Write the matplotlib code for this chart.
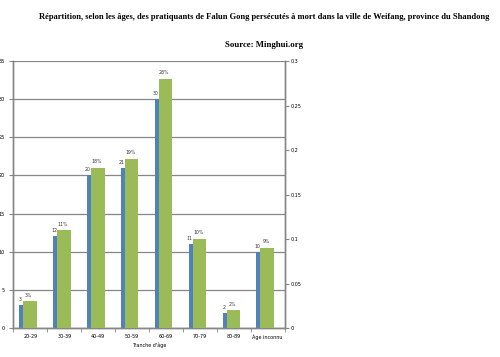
import numpy as np
import matplotlib
matplotlib.use('Agg')
import matplotlib.pyplot as plt

categories = ["20-29", "30-39", "40-49", "50-59", "60-69", "70-79", "80-89", "Âge inconnu"]
counts = [3, 12, 20, 21, 30, 11, 2, 10]
shares = [0.03, 0.11, 0.18, 0.19, 0.28, 0.10, 0.02, 0.09]
share_labels = ["3%", "11%", "18%", "19%", "28%", "10%", "2%", "9%"]

blue = '#4F81BD'
green = '#9BBB59'
grey = '#868686'

fig = plt.figure(figsize=(5, 3.57), dpi=100)
ax = fig.add_axes([0.0267, 0.0812, 0.5427, 0.7479])
ax2 = ax.twinx()

x = np.arange(len(categories))
ax.bar(x - 0.333, counts, width=0.333, align='edge', color=blue, zorder=2)
ax2.bar(x - 0.215, shares, width=0.404, align='edge', color=green, zorder=3)

for xi, c in zip(x, counts):
    ax.text(xi - 0.30, c + 0.4, str(c), fontsize=3.3, color='#333333', ha='center', va='bottom')
for xi, s, lab in zip(x, shares, share_labels):
    ax2.text(xi - 0.05, s + 0.004, lab, fontsize=3.3, color='#333333', ha='center', va='bottom')

ax.set_xlim(-0.5, len(categories) - 0.5)
ax.set_ylim(0, 35)
ax2.set_ylim(0, 0.3)
ax.set_yticks(range(0, 36, 5))
ax2.set_yticks([0, 0.05, 0.1, 0.15, 0.2, 0.25, 0.3])
ax2.set_yticklabels(['0', '0,05', '0,1', '0,15', '0,2', '0,25', '0,3'])
ax.set_xticks(x)
ax.set_xticklabels(categories)
ax.set_xticks(np.arange(len(categories) + 1) - 0.5, minor=True)
ax.tick_params(axis='x', which='major', length=0, labelsize=3.5, pad=4)
ax.tick_params(axis='x', which='minor', length=3, color=grey)
ax.tick_params(axis='y', labelsize=3.5, length=3, color=grey, pad=3)
ax2.tick_params(axis='y', labelsize=3.5, length=3, color=grey, pad=1)

ax.grid(axis='y', color=grey, linewidth=0.9, zorder=0)
ax.set_axisbelow(True)
for a in (ax, ax2):
    a.spines['top'].set_visible(False)
    for s in ('left', 'right', 'bottom'):
        a.spines[s].set_color(grey)
        a.spines[s].set_linewidth(1.0)

ax.set_xlabel("Tranche d'âge", fontsize=3.5, labelpad=2)

fig.text(0.528, 0.952, "Répartition, selon les âges, des pratiquants de Falun Gong persécutés à mort dans la ville de Weifang, province du Shandong",
         fontsize=6.1, fontweight='bold', family='Liberation Serif', ha='center', va='center')
fig.text(0.528, 0.874, "Source: Minghui.org", fontsize=6.3, fontweight='bold', family='Liberation Serif',
         ha='center', va='center')

fig.savefig('out.png', dpi=100)
